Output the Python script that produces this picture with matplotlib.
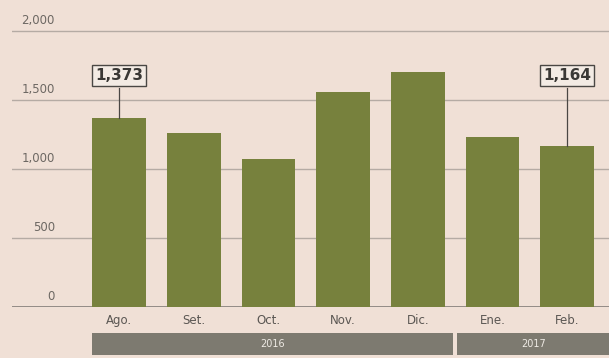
import matplotlib.pyplot as plt
from matplotlib.patches import Rectangle

# datos
meses = ["Ago.", "Set.", "Oct.", "Nov.", "Dic.", "Ene.", "Feb."]
valores = [1373, 1260, 1070, 1560, 1700, 1230, 1164]
anios = ["2016", "2017"]
ticks_y = [0, 500, 1000, 1500, 2000]
tick_labels = ["0", "500", "1,000", "1,500", "2,000"]
destacados = {0: "1,373", 6: "1,164"}

fondo = "#f0e0d6"
verde = "#77813d"
gris_banda = "#7d7a70"

fig = plt.figure(figsize=(6.09, 3.58), dpi=100, facecolor=fondo)
ax = fig.add_axes([12 / 609, 51 / 358, 597 / 609, 287 / 358])
ax.set_facecolor(fondo)
ax.set_xlim(-1.433, 6.56)
ax.set_ylim(0, 2080)
for s in ax.spines.values():
    s.set_visible(False)
ax.set_xticks([])
ax.set_yticks([])

x = list(range(len(meses)))

# grilla y etiquetas del eje y
for v, lab in zip(ticks_y, tick_labels):
    ax.axhline(v, color="#b5aba4" if v else "#8c8580", lw=1.0 if v else 1.3, zorder=1)
    ax.text(-0.86, v + 30, lab, ha="right", va="bottom", fontsize=8.5,
            color="#6d6863", zorder=3)

ax.bar(x, valores, width=0.72, color=verde, zorder=2)

# etiquetas de meses
for xi, m in zip(x, meses):
    ax.text(xi, -95, m, ha="center", va="center", fontsize=8.5, color="#5b5753",
            clip_on=False)

# banda de años
ax.add_patch(Rectangle((-0.36, -348), 4.5 - 0.03 + 0.36, 160, color=gris_banda,
                       clip_on=False, lw=0))
ax.add_patch(Rectangle((4.53, -348), 6.56 - 4.53, 160, color=gris_banda,
                       clip_on=False, lw=0))
ax.text((-0.36 + 4.47) / 2, -268, anios[0], ha="center", va="center",
        fontsize=7, color="#eeeae4", clip_on=False)
ax.text((4.53 + 6.56) / 2, -268, anios[1], ha="center", va="center",
        fontsize=7, color="#eeeae4", clip_on=False)

# valores destacados
for i, txt in destacados.items():
    ax.plot([i, i], [valores[i], 1590], color="#4a4744", lw=0.9, zorder=3)
    ax.text(i, 1680, txt, ha="center", va="center", fontsize=11,
            fontweight="bold", color="#3a3835", zorder=4,
            bbox=dict(boxstyle="square,pad=0.2", fc="#f3ebe4", ec="#4a4744", lw=1))

fig.savefig("out.png", dpi=100, facecolor=fondo)
